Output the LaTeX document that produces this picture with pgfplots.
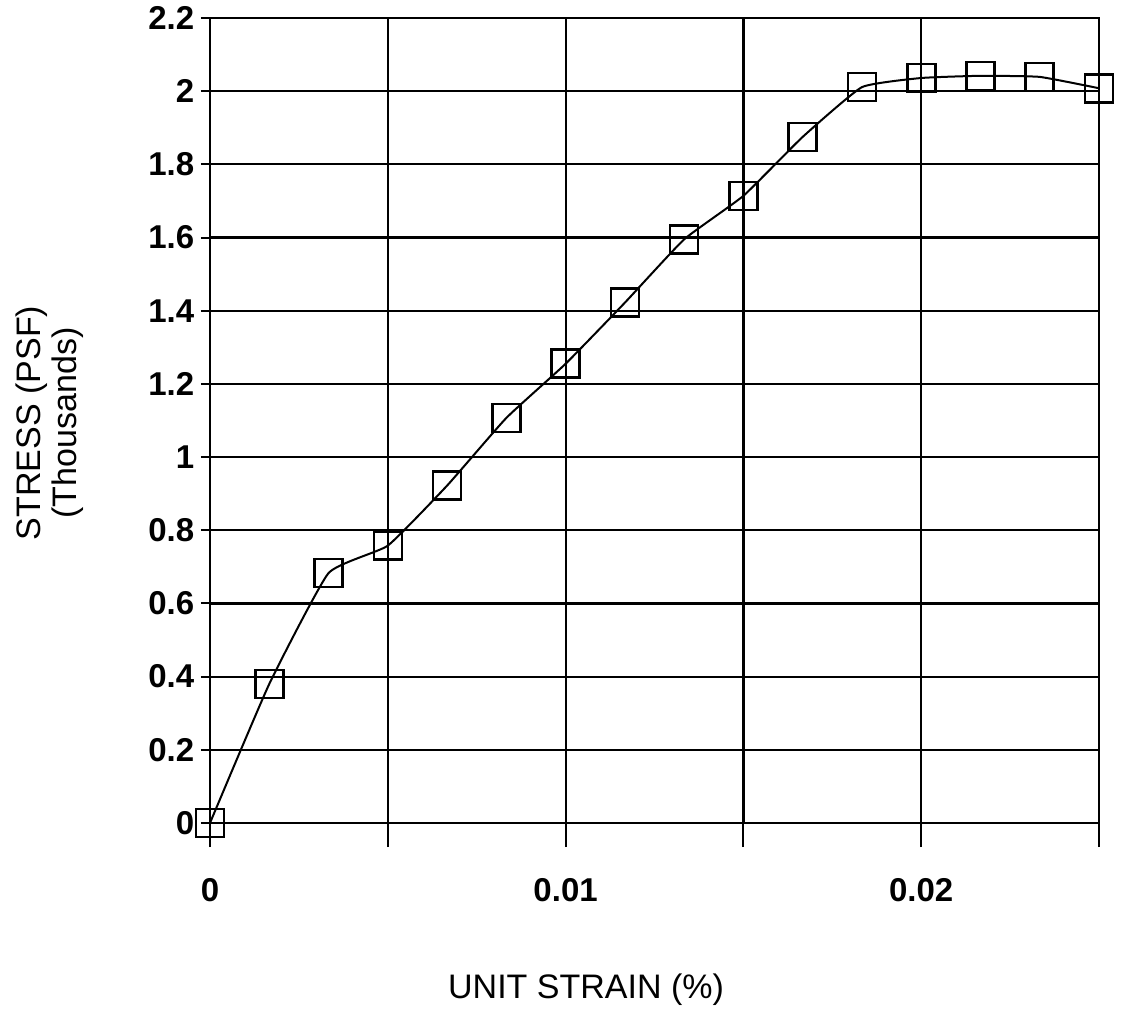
\documentclass[border=0pt]{standalone}
\usepackage{fontspec}
\setmainfont{Liberation Sans}
\usepackage{pgfplots}
\pgfplotsset{compat=1.18}
\begin{document}
\begin{tikzpicture}
\begin{axis}[
  at={(0,0)}, anchor=south west,
  scale only axis, width=889pt, height=805pt,
  xmin=0, xmax=0.025, ymin=0, ymax=2.2,
  clip=false,
  xtick={0,0.005,0.01,0.015,0.02,0.025},
  xticklabels={0,,0.01,,0.02,},
  ytick={0,0.2,0.4,0.6,0.8,1,1.2,1.4,1.6,1.8,2,2.2},
  yticklabels={0,0.2,0.4,0.6,0.8,1,1.2,1.4,1.6,1.8,2,2.2},
  scaled x ticks=false,
  tick align=outside,
  xtick pos=bottom, ytick pos=left,
  xtick style={black, line width=2pt, /pgfplots/major tick length=24pt},
  ytick style={black, line width=2pt, /pgfplots/major tick length=9pt},
  grid=major,
  grid style={black, line width=2.2pt},
  axis line style={black, line width=2.6pt},
  ticklabel style={font=\fontsize{33}{37}\selectfont\bfseries},
  /pgf/number format/assume math mode=true,
  xticklabel style={yshift=-48pt},
  yticklabel style={xshift=-8pt},
  xlabel={UNIT STRAIN (\%)},
  ylabel={STRESS (PSF)\\(Thousands)},
  label style={font=\fontsize{34}{36}\selectfont},
  xlabel style={at={(axis description cs:0.423,0)}, anchor=center, yshift=-167pt},
  ylabel style={at={(axis description cs:-0.18,0.497)}, anchor=center, align=center},
]
\addplot[black, line width=2pt, smooth, tension=0.25,
  mark=square, mark size=14pt, mark options={solid, line width=2.6pt, fill=none}]
  coordinates {
  (0,0) (0.0016667,0.38) (0.0033333,0.683) (0.005,0.758)
  (0.0066667,0.922) (0.0083333,1.107) (0.01,1.255) (0.0116667,1.422)
  (0.0133333,1.595) (0.015,1.714) (0.0166667,1.875) (0.0183333,2.011)
  (0.02,2.036) (0.0216667,2.042) (0.0233333,2.039) (0.025,2.008)
  };
\end{axis}
\path[use as bounding box] (-210pt,-184pt) rectangle (911pt,823pt);
\end{tikzpicture}
\end{document}
